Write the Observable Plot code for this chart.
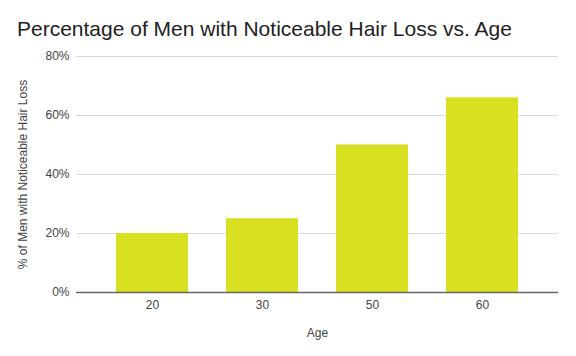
<!DOCTYPE html>
<html>
<head>
<meta charset="utf-8">
<script src="https://cdn.jsdelivr.net/npm/d3@7"></script>
<script src="https://cdn.jsdelivr.net/npm/@observablehq/plot@0.6"></script>
<style>
  html, body { margin: 0; padding: 0; background: #fff; }
  #wrap { width: 576px; height: 356px; position: relative; overflow: hidden; font-family: "Liberation Sans", Arial, sans-serif; }
  #title { position: absolute; left: 17px; top: 18px; font-size: 21px; color: #222; white-space: nowrap; line-height: 1; }
  #chart { position: absolute; left: 0; top: 40px; }
</style>
</head>
<body>
<div id="wrap">
  <div id="title">Percentage of Men with Noticeable Hair Loss vs. Age</div>
  <div id="chart"></div>
</div>
<script>
const ages = ["20", "30", "50", "60"];
const percents = [20, 25, 50, 66];
const yTicks = [0, 20, 40, 60, 80];

const data = ages.map((a, i) => ({age: a, pct: percents[i]}));

const chart = Plot.plot({
  width: 576,
  height: 316,
  marginLeft: 76,
  marginRight: 18,
  marginTop: 16,
  marginBottom: 64,
  style: {fontFamily: "'Liberation Sans', Arial, sans-serif", fontSize: "12px", color: "#444", background: "#fff"},
  x: {domain: ages, paddingInner: 0.35, paddingOuter: 0.175, insetLeft: 20, insetRight: 20, label: null},
  y: {domain: [0, 80], ticks: yTicks, label: null},
  marks: [
    Plot.gridY(yTicks, {stroke: "#d9d9d9", strokeOpacity: 1, strokeWidth: 1}),
    Plot.barY(data, {x: "age", y: "pct", fill: "#d9e021"}),
    Plot.ruleY([0], {stroke: "#666", strokeWidth: 1.3}),
    Plot.axisY(yTicks, {tickSize: 0, tickPadding: 7, tickFormat: d => d + "%", label: "% of Men with Noticeable Hair Loss", labelAnchor: "center", labelArrow: "none", labelOffset: 58, fill: "#444"}),
    Plot.axisX(ages, {tickSize: 0, tickPadding: 8, label: "Age", labelAnchor: "center", labelArrow: "none", labelOffset: 44, fill: "#444"})
  ]
});
document.getElementById("chart").appendChild(chart);
</script>
</body>
</html>
